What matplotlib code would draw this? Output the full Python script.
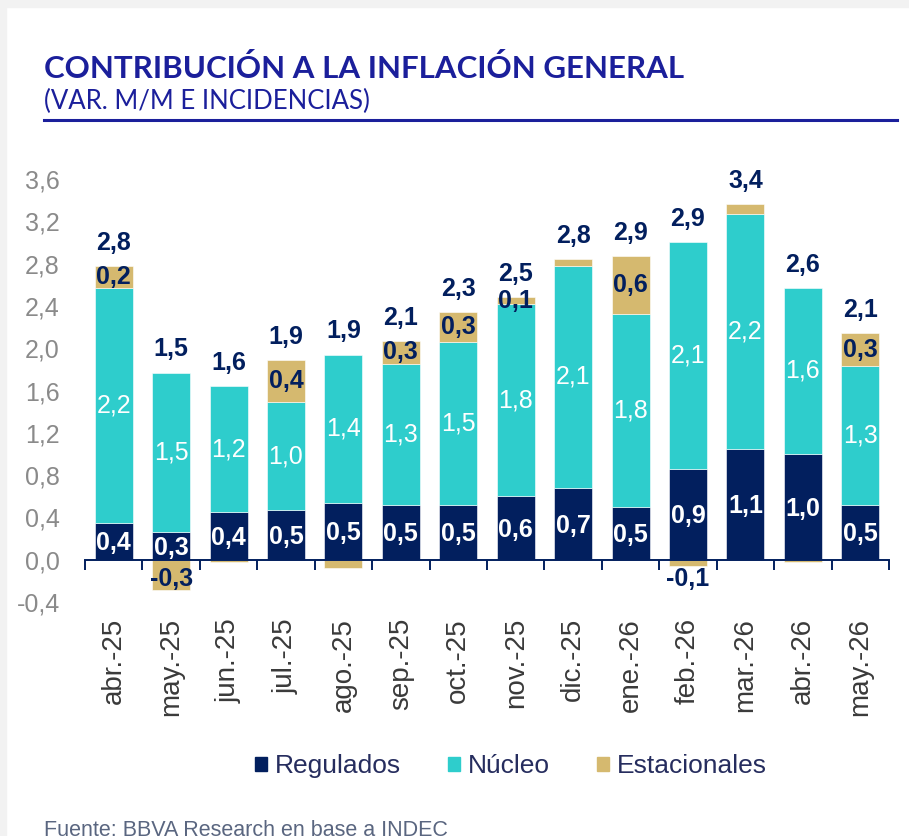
import numpy as np
import matplotlib.pyplot as plt
from matplotlib.patches import Patch, Rectangle

# contribucion a la inflacion general (var. m/m e incidencias)
months = ["abr.-25", "may.-25", "jun.-25", "jul.-25", "ago.-25", "sep.-25", "oct.-25",
          "nov.-25", "dic.-25", "ene.-26", "feb.-26", "mar.-26", "abr.-26", "may.-26"]
regulados = [0.35, 0.26, 0.45, 0.47, 0.54, 0.52, 0.52, 0.60, 0.68, 0.50, 0.86, 1.05, 1.00, 0.52]
nucleo = [2.22, 1.51, 1.19, 1.02, 1.40, 1.33, 1.54, 1.82, 2.10, 1.82, 2.14, 2.22, 1.57, 1.31]
estacionales = [0.21, -0.29, -0.02, 0.40, -0.08, 0.22, 0.28, 0.06, 0.06, 0.55, -0.06, 0.09, -0.02, 0.31]
total_labels = ["2,8", "1,5", "1,6", "1,9", "1,9", "2,1", "2,3", "2,5", "2,8", "2,9", "2,9", "3,4", "2,6", "2,1"]
reg_labels = ["0,4", "0,3", "0,4", "0,5", "0,5", "0,5", "0,5", "0,6", "0,7", "0,5", "0,9", "1,1", "1,0", "0,5"]
nuc_labels = ["2,2", "1,5", "1,2", "1,0", "1,4", "1,3", "1,5", "1,8", "2,1", "1,8", "2,1", "2,2", "1,6", "1,3"]
est_labels = ["0,2", "-0,3", "", "0,4", "", "0,3", "0,3", "0,1", "", "0,6", "-0,1", "", "", "0,3"]
yticks = [-0.4, 0.0, 0.4, 0.8, 1.2, 1.6, 2.0, 2.4, 2.8, 3.2, 3.6]

navy = "#021f5e"
teal = "#2ecdcc"
tan = "#d5b96f"
title_blue = "#1b1f9b"

reg = np.array(regulados)
nuc = np.array(nucleo)
est = np.array(estacionales)
x = np.arange(len(months))
w = 0.66

fig = plt.figure(figsize=(9.09, 8.36), dpi=100)
fig.patches.append(Rectangle((0, 0), 6 / 909, 1, transform=fig.transFigure, color="#f2f2f2", zorder=0))
fig.patches.append(Rectangle((0, 1 - 7 / 836), 1, 7 / 836, transform=fig.transFigure, color="#f2f2f2", zorder=0))

# title block
fig.text(44 / 909, 1 - 78 / 836, "CONTRIBUCIÓN A LA INFLACIÓN GENERAL", family="Lato", weight="bold",
         fontsize=22.5, color=title_blue, va="baseline", ha="left")
fig.text(44 / 909, 1 - 109 / 836, "(VAR. M/M E INCIDENCIAS)", family="Lato", fontsize=18.5,
         color=title_blue, va="baseline", ha="left")
fig.add_artist(plt.Line2D([44 / 909, 897 / 909], [1 - 120 / 836] * 2, color=title_blue, lw=2.2))

ax = fig.add_axes([85 / 909, 234 / 836, 804 / 909, 423 / 836])
for s in ["top", "right", "left"]:
    ax.spines[s].set_visible(False)
ax.spines["bottom"].set_position(("data", 0))
ax.spines["bottom"].set_color(navy)
ax.spines["bottom"].set_linewidth(1.4)
ax.set_facecolor("none")

est_bottom = np.where(est >= 0, reg + nuc, 0)
ax.bar(x, reg, w, color=navy, edgecolor="white", lw=0.4, zorder=2)
ax.bar(x, nuc, w, bottom=reg, color=teal, edgecolor="white", lw=0.4, zorder=2)
ax.bar(x, est, w, bottom=est_bottom, color=tan, edgecolor="white", lw=0.4, zorder=2)

lab = dict(family="Liberation Sans", fontsize=18, ha="center", zorder=3)
for i in range(len(x)):
    ax.text(x[i], reg[i] / 2 - 0.02, reg_labels[i], color="white", weight="bold", va="center", **lab)
    ax.text(x[i], reg[i] + nuc[i] / 2, nuc_labels[i], color="white", va="center", **lab)
    if est_labels[i]:
        if est[i] >= 0:
            ax.text(x[i], est_bottom[i] + est[i] / 2, est_labels[i], color=navy, weight="bold", va="center", **lab)
        else:
            ax.annotate(est_labels[i], (x[i], 0), xytext=(0, -5), textcoords="offset points",
                        color=navy, weight="bold", va="top", **lab)
    top = reg[i] + nuc[i] + max(est[i], 0)
    ax.annotate(total_labels[i], (x[i], top), xytext=(0, 8), textcoords="offset points",
                color=navy, weight="bold", va="bottom", **lab)

ax.set_xlim(-0.5, len(x) - 0.5)
ax.set_ylim(-0.4, 3.6)
ax.set_yticks(yticks)
ax.set_yticklabels([f"{t:.1f}".replace(".", ",") for t in yticks], family="Liberation Sans",
                   fontsize=18, color="#8a8a8a")
ax.tick_params(axis="y", length=0, pad=18)

ax.set_xticks(x)
ax.set_xticklabels(months, rotation=90, family="Liberation Sans", fontsize=20, color="#3a3a3a", va="top")
ax.set_xticks(np.arange(len(x) + 1) - 0.5, minor=True)
ax.tick_params(axis="x", which="major", length=0, pad=42)
ax.tick_params(axis="x", which="minor", length=7, width=1.4, color=navy, direction="out")

handles = [Patch(color=navy, label="Regulados"), Patch(color=teal, label="Núcleo"),
           Patch(color=tan, label="Estacionales")]
fig.legend(handles=handles, loc="center", bbox_to_anchor=(511 / 909, 1 - 766 / 836), ncol=3,
           frameon=False, prop={"family": "Liberation Sans", "size": 19}, labelcolor="#262d5e",
           handlelength=0.45, handleheight=0.45, handletextpad=0.3, columnspacing=1.8)

fig.text(44 / 909, 1 - 820 / 836, "Fuente: BBVA Research en base a INDEC", family="Liberation Sans",
         fontsize=15.5, color="#5a6680", va="top", ha="left")

plt.savefig("out.png", dpi=100)
